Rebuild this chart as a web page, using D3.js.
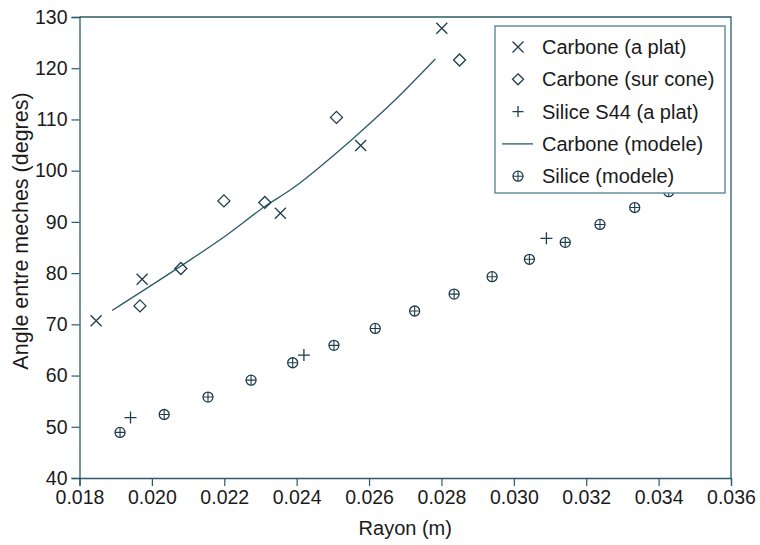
<!DOCTYPE html>
<html>
<head>
<meta charset="utf-8">
<script src="https://cdn.jsdelivr.net/npm/d3@7"></script>
<style>
  body { margin: 0; background: #fff; }
  text { font-family: "Liberation Sans", Arial, sans-serif; fill: #1b1b1b; }
</style>
</head>
<body>
<div id="chart"></div>
<script>
// data: rayon (m) vs angle (degres)
var carbonePlatX = [0.01846, 0.01973, 0.02355, 0.02577, 0.02801];
var carbonePlatY = [70.7, 78.8, 91.7, 104.9, 127.8];

var carboneConeX = [0.01967, 0.02080, 0.02199, 0.02312, 0.02510, 0.02850];
var carboneConeY = [73.6, 80.9, 94.1, 93.8, 110.4, 121.6];

var siliceS44X = [0.01941, 0.02420, 0.03090];
var siliceS44Y = [51.8, 64.0, 86.8];

var carboneModeleX = [0.01890, 0.02087, 0.02206, 0.02312, 0.02390, 0.02482, 0.02556, 0.02666, 0.02783];
var carboneModeleY = [72.7, 81.7, 87.4, 93.0, 96.6, 101.8, 106.3, 113.4, 121.8];

var siliceModeleX = [0.01912, 0.02034, 0.02155, 0.02274, 0.02389, 0.02503, 0.02617, 0.02726,
                     0.02835, 0.02940, 0.03043, 0.03142, 0.03238, 0.03334, 0.03428];
var siliceModeleY = [48.9, 52.4, 55.8, 59.1, 62.5, 65.9, 69.2, 72.6,
                     75.9, 79.3, 82.7, 86.0, 89.5, 92.8, 95.9];

var xTicks = [0.018, 0.020, 0.022, 0.024, 0.026, 0.028, 0.030, 0.032, 0.034, 0.036];
var yTicks = [40, 50, 60, 70, 80, 90, 100, 110, 120, 130];

var legendLabels = ["Carbone (a plat)", "Carbone (sur cone)", "Silice S44 (a plat)",
                    "Carbone (modele)", "Silice (modele)"];

var width = 760, height = 545;
var margin = {top: 17, right: 29, bottom: 67, left: 79.5};
var ink = "#1f3d4b", axisCol = "#2c5a6a";

var svg = d3.select("#chart").append("svg")
    .attr("width", width)
    .attr("height", height);

var x = d3.scaleLinear().domain([0.018, 0.036]).range([margin.left, width - margin.right]);
var y = d3.scaleLinear().domain([40, 130]).range([height - margin.bottom, margin.top]);

function zip(xs, ys) { return xs.map(function (v, i) { return [v, ys[i]]; }); }

// frame (top + right)
svg.append("path")
    .attr("d", "M" + x(0.018) + "," + y(130) + "H" + x(0.036) + "V" + y(40))
    .attr("fill", "none")
    .attr("stroke", axisCol)
    .attr("stroke-width", 1.3);

// minor ticks
var xMinor = d3.range(19, 36, 2).map(function (d) { return d / 1000; });
var yMinor = d3.range(45, 130, 10);

var gx = svg.append("g").attr("transform", "translate(0," + y(40) + ")");
gx.call(d3.axisBottom(x).tickValues(xMinor).tickSize(5).tickFormat(""));
gx.call(d3.axisBottom(x).tickValues(xTicks).tickSize(8).tickPadding(4).tickFormat(d3.format(".3f")));

var gy = svg.append("g").attr("transform", "translate(" + x(0.018) + ",0)");
gy.call(d3.axisLeft(y).tickValues(yMinor).tickSize(5).tickFormat(""));
gy.call(d3.axisLeft(y).tickValues(yTicks).tickSize(8).tickPadding(4));

svg.selectAll(".domain").attr("stroke", axisCol).attr("stroke-width", 1.3);
svg.selectAll(".tick line").attr("stroke", axisCol).attr("stroke-width", 1.2);
svg.selectAll(".tick text").style("font-size", "19.5px").attr("fill", "#1b1b1b")
    .style("font-family", "'Liberation Sans', Arial, sans-serif");

// axis titles
svg.append("text")
    .attr("x", (x(0.018) + x(0.036)) / 2)
    .attr("y", 535)
    .attr("text-anchor", "middle")
    .style("font-size", "20px")
    .text("Rayon (m)");

svg.append("text")
    .attr("transform", "translate(28," + 231 + ") rotate(-90)")
    .attr("text-anchor", "middle")
    .style("font-size", "21.5px")
    .text("Angle entre meches (degres)");

// marker shapes
function markX(g, s) {
    g.append("path").attr("d", "M" + (-s) + "," + (-s) + "L" + s + "," + s + "M" + (-s) + "," + s + "L" + s + "," + (-s))
        .attr("stroke", ink).attr("stroke-width", 1.3).attr("fill", "none");
}
function markDiamond(g, s) {
    g.append("path").attr("d", "M0," + (-s) + "L" + s + ",0L0," + s + "L" + (-s) + ",0Z")
        .attr("stroke", ink).attr("stroke-width", 1.3).attr("fill", "none");
}
function markPlus(g, s) {
    g.append("path").attr("d", "M" + (-s) + ",0H" + s + "M0," + (-s) + "V" + s)
        .attr("stroke", ink).attr("stroke-width", 1.3).attr("fill", "none");
}
function markCirclePlus(g, r) {
    g.append("circle").attr("r", r).attr("stroke", ink).attr("stroke-width", 1.3).attr("fill", "none");
    g.append("path").attr("d", "M" + (-r) + ",0H" + r + "M0," + (-r) + "V" + r)
        .attr("stroke", ink).attr("stroke-width", 1.1).attr("fill", "none");
}

function scatter(data, fn, s) {
    svg.append("g").selectAll("g")
        .data(data)
        .enter().append("g")
        .attr("transform", function (d) { return "translate(" + x(d[0]) + "," + y(d[1]) + ")"; })
        .each(function () { fn(d3.select(this), s); });
}

// model curve for carbon
var line = d3.line()
    .x(function (d) { return x(d[0]); })
    .y(function (d) { return y(d[1]); })
    .curve(d3.curveMonotoneX);

svg.append("path")
    .datum(zip(carboneModeleX, carboneModeleY))
    .attr("d", line)
    .attr("fill", "none")
    .attr("stroke", axisCol)
    .attr("stroke-width", 1.3);

scatter(zip(siliceModeleX, siliceModeleY), markCirclePlus, 5);
scatter(zip(carbonePlatX, carbonePlatY), markX, 5.5);
scatter(zip(carboneConeX, carboneConeY), markDiamond, 6);
scatter(zip(siliceS44X, siliceS44Y), markPlus, 6);

// legend
var lg = svg.append("g").attr("transform", "translate(495,26)");
lg.append("rect")
    .attr("width", 230).attr("height", 167)
    .attr("fill", "#fff")
    .attr("stroke", "#4d8196")
    .attr("stroke-width", 1.3);

var legendMarks = [markX, markDiamond, markPlus, null, markCirclePlus];
legendLabels.forEach(function (lab, i) {
    var row = lg.append("g").attr("transform", "translate(23," + (21 + i * 32.3) + ")");
    if (legendMarks[i]) {
        legendMarks[i](row, i === 4 ? 5 : 5.5);
    } else {
        row.append("line").attr("x1", -16).attr("x2", 15)
            .attr("stroke", axisCol).attr("stroke-width", 1.3);
    }
    row.append("text")
        .attr("x", 24)
        .attr("dy", "0.35em")
        .style("font-size", "20px")
        .text(lab);
});
</script>
</body>
</html>
